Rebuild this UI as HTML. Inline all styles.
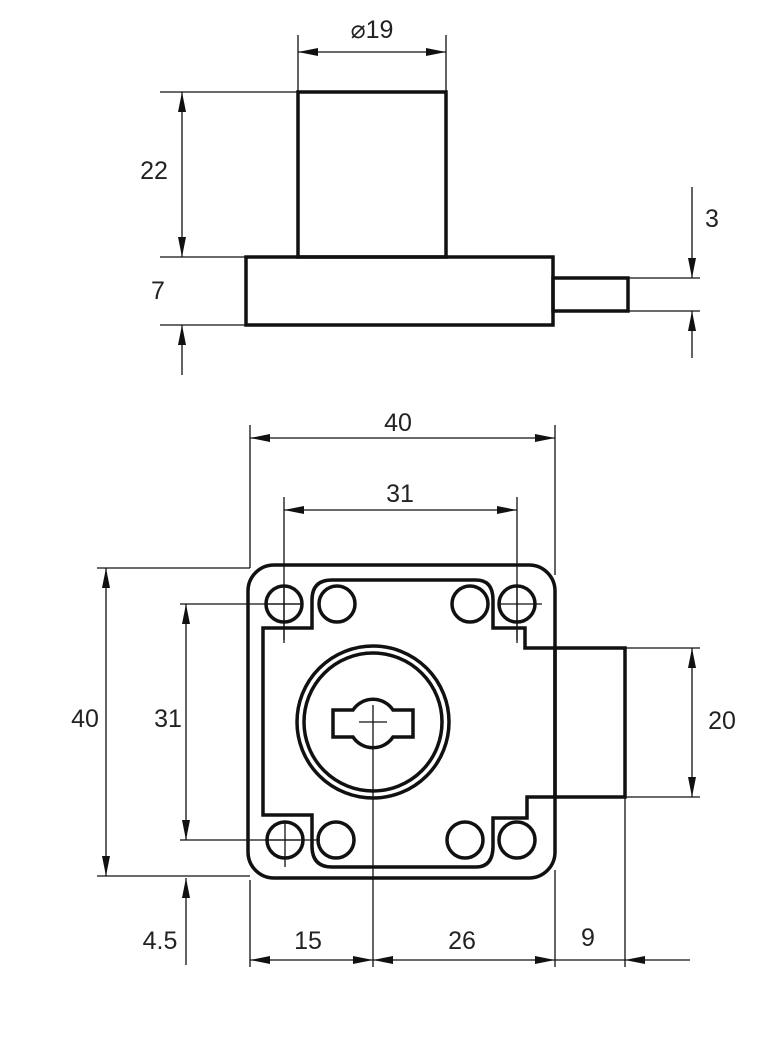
<!DOCTYPE html>
<html><head><meta charset="utf-8"><style>
html,body{margin:0;padding:0;background:#fff;width:781px;height:1051px;overflow:hidden}
svg{display:block}
text{font-family:"Liberation Sans",sans-serif;font-size:25px;fill:#222}
</style></head><body>
<svg width="781" height="1051" viewBox="0 0 781 1051">
<defs>
<marker id="a" viewBox="0 0 20 8" refX="20" refY="4" markerWidth="20" markerHeight="8" markerUnits="userSpaceOnUse" orient="auto-start-reverse"><path d="M0,0 L20,4 L0,8 z" fill="#111"/></marker>
</defs>
<g stroke="#111" stroke-width="1.3" fill="none">
<line x1="298" y1="35" x2="298" y2="92"/><line x1="446" y1="35" x2="446" y2="92"/>
<line x1="298" y1="52" x2="446" y2="52" marker-start="url(#a)" marker-end="url(#a)"/>
<line x1="160" y1="92" x2="298" y2="92"/><line x1="160" y1="257" x2="246" y2="257"/><line x1="160" y1="325" x2="246" y2="325"/>
<line x1="182" y1="92" x2="182" y2="257" marker-start="url(#a)" marker-end="url(#a)"/>
<line x1="182" y1="375" x2="182" y2="325" marker-end="url(#a)"/>
<line x1="628" y1="278" x2="700" y2="278"/><line x1="628" y1="311" x2="700" y2="311"/>
<line x1="692" y1="187" x2="692" y2="278" marker-end="url(#a)"/>
<line x1="692" y1="358" x2="692" y2="311" marker-end="url(#a)"/>
<line x1="250" y1="425" x2="250" y2="568"/><line x1="555" y1="425" x2="555" y2="575"/>
<line x1="250" y1="438" x2="555" y2="438" marker-start="url(#a)" marker-end="url(#a)"/>
<line x1="284" y1="497" x2="284" y2="640"/><line x1="517" y1="497" x2="517" y2="640"/>
<line x1="284" y1="510" x2="517" y2="510" marker-start="url(#a)" marker-end="url(#a)"/>
<line x1="97" y1="568" x2="250" y2="568"/><line x1="97" y1="876" x2="250" y2="876"/>
<line x1="106" y1="568" x2="106" y2="876" marker-start="url(#a)" marker-end="url(#a)"/>
<line x1="180" y1="604" x2="300" y2="604"/><line x1="180" y1="840" x2="300" y2="840"/>
<line x1="186" y1="604" x2="186" y2="840" marker-start="url(#a)" marker-end="url(#a)"/>
<line x1="186" y1="965" x2="186" y2="878" marker-end="url(#a)"/>
<line x1="625" y1="648" x2="700" y2="648"/><line x1="625" y1="797" x2="700" y2="797"/>
<line x1="692" y1="648" x2="692" y2="797" marker-start="url(#a)" marker-end="url(#a)"/>
<line x1="250" y1="880" x2="250" y2="967"/><line x1="555" y1="870" x2="555" y2="967"/><line x1="625" y1="797" x2="625" y2="967"/>
<line x1="373" y1="705" x2="373" y2="967"/>
<line x1="250" y1="960" x2="373" y2="960" marker-start="url(#a)" marker-end="url(#a)"/>
<line x1="373" y1="960" x2="555" y2="960" marker-start="url(#a)" marker-end="url(#a)"/>
<line x1="555" y1="960" x2="625" y2="960"/>
<line x1="690" y1="960" x2="625" y2="960" marker-end="url(#a)"/>
<line x1="284" y1="585" x2="284" y2="643"/><line x1="265" y1="604" x2="303" y2="604"/>
<line x1="517" y1="585" x2="517" y2="643"/><line x1="498" y1="604" x2="542" y2="604"/>
<line x1="285" y1="822" x2="285" y2="867"/><line x1="265" y1="840" x2="320" y2="840"/>
<line x1="359" y1="722" x2="387" y2="722"/>
</g>
<g stroke="#111" stroke-width="3.5" fill="none">
<rect x="298" y="92" width="148" height="165"/>
<rect x="246" y="257" width="307" height="68"/>
<rect x="553" y="278" width="75" height="33"/>
<rect x="248" y="565" width="307" height="313" rx="26"/>
<path d="M555,648 H525 V628 H493 V600 Q493,580 476,580 H332 Q312,580 312,600 V628 H263 V815 H312 V846 Q312,867 332,867 H476 Q493,867 493,846 V818 H527 V797 H555"/>
<rect x="555" y="648" width="70" height="149"/>
<circle cx="284" cy="604" r="18"/><circle cx="337" cy="604" r="18"/>
<circle cx="470" cy="604" r="18"/><circle cx="517" cy="604" r="18"/>
<circle cx="285" cy="840" r="18"/><circle cx="336" cy="840" r="18"/>
<circle cx="465" cy="840" r="18"/><circle cx="517" cy="840" r="18"/>
<circle cx="373" cy="722" r="76"/><circle cx="373" cy="722" r="69"/>
<path d="M333,710 H353 A24,24 0 0 1 393,710 H413 V737 H393 A24,24 0 0 1 353,737 H333 Z"/>
</g>
<text x="372" y="38" text-anchor="middle">⌀19</text>
<text x="154" y="179" text-anchor="middle">22</text>
<text x="158" y="299" text-anchor="middle">7</text>
<text x="712" y="227" text-anchor="middle">3</text>
<text x="398" y="431" text-anchor="middle">40</text>
<text x="400" y="502" text-anchor="middle">31</text>
<text x="85" y="727" text-anchor="middle">40</text>
<text x="168" y="727" text-anchor="middle">31</text>
<text x="722" y="729" text-anchor="middle">20</text>
<text x="160" y="949" text-anchor="middle">4.5</text>
<text x="308" y="949" text-anchor="middle">15</text>
<text x="462" y="949" text-anchor="middle">26</text>
<text x="588" y="946" text-anchor="middle">9</text>
</svg>
</body></html>
